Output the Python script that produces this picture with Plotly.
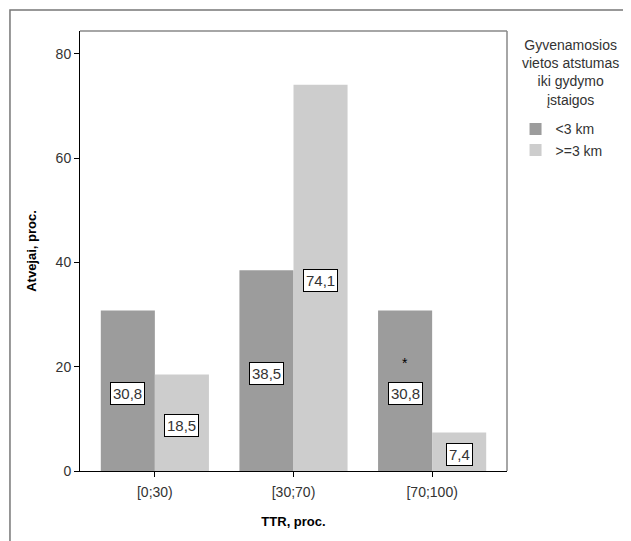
import plotly.graph_objects as go

categories = ["[0;30)", "[30;70)", "[70;100)"]
series_names = ["<3 km", ">=3 km"]
values_near = [30.8, 38.5, 30.8]
values_far = [18.5, 74.1, 7.4]
label_near = ["30,8", "38,5", "30,8"]
label_far = ["18,5", "74,1", "7,4"]
star_flags = [False, False, True]
y_ticks = [0, 20, 40, 60, 80]

colors = ["#9c9c9c", "#cdcdcd"]
font_family = "Liberation Sans, Arial, sans-serif"

fig = go.Figure()
fig.add_trace(go.Bar(x=categories, y=values_near, name=series_names[0],
                     marker=dict(color=colors[0], line=dict(width=0))))
fig.add_trace(go.Bar(x=categories, y=values_far, name=series_names[1],
                     marker=dict(color=colors[1], line=dict(width=0))))

annotations = []
for cat, v, lab, star in zip(categories, values_near, label_near, star_flags):
    annotations.append(dict(x=cat, y=v / 2, xref="x", yref="y", text=lab, showarrow=False,
                            xshift=-27, yshift=-3, bgcolor="white", bordercolor="black", borderwidth=1,
                            borderpad=2, font=dict(size=15, color="#333333", family=font_family)))
    if star:
        annotations.append(dict(x=cat, y=v / 2, xref="x", yref="y", text="*", showarrow=False,
                                xshift=-27, yshift=28, font=dict(size=14, color="black", family=font_family)))
for cat, v, lab in zip(categories, values_far, label_far):
    annotations.append(dict(x=cat, y=v / 2, xref="x", yref="y", text=lab, showarrow=False,
                            xshift=27, yshift=-3, bgcolor="white", bordercolor="black", borderwidth=1,
                            borderpad=2, font=dict(size=15, color="#333333", family=font_family)))

# legend title
annotations.append(dict(x=1.148, y=0.991, xref="paper", yref="paper",
                        text="Gyvenamosios<br>vietos atstumas<br>iki gydymo<br>įstaigos",
                        showarrow=False, align="center", xanchor="center", yanchor="top",
                        font=dict(size=14, color="#333333", family=font_family)))

shapes = [
    # outer frame
    dict(type="rect", xref="paper", yref="paper", x0=-0.164, x1=1.6, y0=-0.5, y1=1.048,
         line=dict(color="#777777", width=1.5), layer="below"),
    # top and right plot frame lines
    dict(type="line", xref="paper", yref="paper", x0=0, x1=1, y0=1, y1=1,
         line=dict(color="#888888", width=1.5)),
    dict(type="line", xref="paper", yref="paper", x0=1, x1=1, y0=0, y1=1,
         line=dict(color="#888888", width=1.5)),
]

fig.update_layout(
    width=631, height=541,
    margin=dict(l=72, r=132, t=23, b=78),
    paper_bgcolor="white", plot_bgcolor="white",
    barmode="group", bargap=0.22, bargroupgap=0,
    font=dict(family=font_family, size=14, color="#333333"),
    showlegend=True,
    legend=dict(x=1.02, y=0.813, xanchor="left", yanchor="top",
                font=dict(size=14, color="#333333", family=font_family),
                itemwidth=30, tracegroupgap=0, bgcolor="rgba(0,0,0,0)"),
    annotations=annotations,
    shapes=shapes,
    xaxis=dict(
        type="category", range=[-0.54, 2.54],
        showline=True, linecolor="black", linewidth=1,
        ticks="outside", ticklen=5, tickcolor="black",
        showgrid=False, zeroline=False,
        ticklabelstandoff=3,
        tickfont=dict(size=14, color="#333333"),
        title=dict(text="<b>TTR, proc.</b>", standoff=18,
                   font=dict(size=13, color="black")),
    ),
    yaxis=dict(
        range=[0, 84.4], tickvals=y_ticks, ticktext=[str(t) for t in y_ticks],
        showline=True, linecolor="black", linewidth=1,
        ticks="outside", ticklen=5, tickcolor="black",
        showgrid=False, zeroline=False,
        tickfont=dict(size=14, color="#333333"),
        title=dict(text="<b>Atvejai, proc.</b>", standoff=16,
                   font=dict(size=13, color="black")),
    ),
)

fig.write_html("out.html")
